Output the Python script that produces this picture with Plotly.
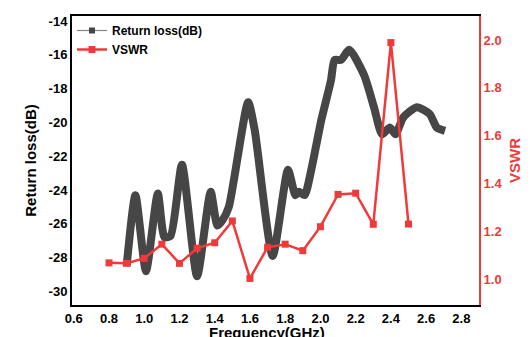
import plotly.graph_objects as go

# Return loss curve
rl_freq = [0.90, 0.95, 1.01, 1.077, 1.115, 1.15, 1.214, 1.30, 1.377, 1.415, 1.443, 1.48,
           1.59, 1.627, 1.729, 1.816, 1.858, 1.877, 1.91, 1.948, 2.004, 2.06, 2.08, 2.117,
           2.164, 2.248, 2.304, 2.35, 2.394, 2.426, 2.47, 2.547, 2.62, 2.66, 2.707]
rl_db = [-28.5, -24.3, -28.8, -24.2, -26.8, -26.7, -22.5, -29.1, -24.1, -26.1, -25.8, -25.0,
         -18.8, -20.45, -27.9, -22.8, -24.3, -24.1, -24.3, -22.8, -19.9, -17.5, -16.3, -16.3,
         -15.7, -17.2, -19.1, -20.7, -20.3, -20.7, -19.7, -19.1, -19.5, -20.3, -20.5]

# VSWR points
vswr_freq = [0.8, 0.9, 1.0, 1.1, 1.2, 1.3, 1.4, 1.5, 1.6, 1.7, 1.8, 1.9, 2.0, 2.1, 2.2, 2.3, 2.4, 2.5]
vswr = [1.069, 1.067, 1.088, 1.147, 1.067, 1.13, 1.153, 1.244, 1.004, 1.134, 1.147, 1.12,
        1.22, 1.355, 1.36, 1.23, 1.989, 1.231]

x_ticks = [0.6, 0.8, 1.0, 1.2, 1.4, 1.6, 1.8, 2.0, 2.2, 2.4, 2.6, 2.8]
rl_ticks = [-30, -28, -26, -24, -22, -20, -18, -16, -14]
vswr_ticks = [1.0, 1.2, 1.4, 1.6, 1.8, 2.0]

GRAY = "#464646"
RED = "#f03a3a"
FONT = "Liberation Sans, Arial, sans-serif"

fig = go.Figure()
fig.add_trace(go.Scatter(x=rl_freq, y=rl_db, mode="lines", line=dict(color=GRAY, width=8, shape="spline", smoothing=0.6),
                         showlegend=False, yaxis="y"))
fig.add_trace(go.Scatter(x=[None], y=[None], mode="lines+markers", name="<b>Return loss(dB)</b>",
                         line=dict(color="#888888", width=1.2), marker=dict(symbol="square", size=6, color=GRAY),
                         yaxis="y"))
fig.add_trace(go.Scatter(x=vswr_freq, y=vswr, mode="lines+markers", name="<b>VSWR</b>",
                         line=dict(color=RED, width=2.5), marker=dict(symbol="square", size=7, color=RED),
                         yaxis="y2"))

fig.update_layout(
    width=530, height=337,
    margin=dict(l=72, r=51, t=16, b=32),
    paper_bgcolor="white", plot_bgcolor="white",
    font=dict(family=FONT, size=13, color="black"),
    showlegend=True,
    legend=dict(x=0.0, y=1.0, xanchor="left", yanchor="top", bgcolor="rgba(0,0,0,0)",
                font=dict(size=12, family=FONT, color="black"), tracegroupgap=0, itemwidth=30),
    xaxis=dict(range=[0.59, 2.9], tickvals=x_ticks, ticktext=[f"<b>{v:.1f}</b>" for v in x_ticks],
               showgrid=False, zeroline=False, showline=True, linecolor="black", linewidth=2, mirror=True,
               ticks="", tickfont=dict(size=13, color="black"), automargin=False),
    yaxis=dict(range=[-30.8, -13.7], tickvals=rl_ticks, ticktext=[f"<b>{v}</b>" for v in rl_ticks],
               showgrid=False, zeroline=False, showline=True, linecolor="black", linewidth=2,
               ticks="", tickfont=dict(size=13, color="black"),
               title=dict(text="<b>Return loss(dB)</b>", font=dict(size=15), standoff=8), automargin=False),
    yaxis2=dict(range=[0.893, 2.10], overlaying="y", side="right", tickvals=vswr_ticks,
                ticktext=[f"<b>{v:.1f}</b>" for v in vswr_ticks],
                showgrid=False, zeroline=False, showline=True, linecolor=RED, linewidth=2,
                ticks="", tickfont=dict(size=13, color=RED),
                title=dict(text="<b>VSWR</b>", font=dict(size=15, color=RED), standoff=8), automargin=False),
    annotations=[dict(text="<b>Frequency(GHz)</b>", xref="paper", yref="paper", x=0.48, y=-0.095,
                      xanchor="center", yanchor="middle", showarrow=False, font=dict(size=15, color="black"))],
)

fig.write_html("out.html")
